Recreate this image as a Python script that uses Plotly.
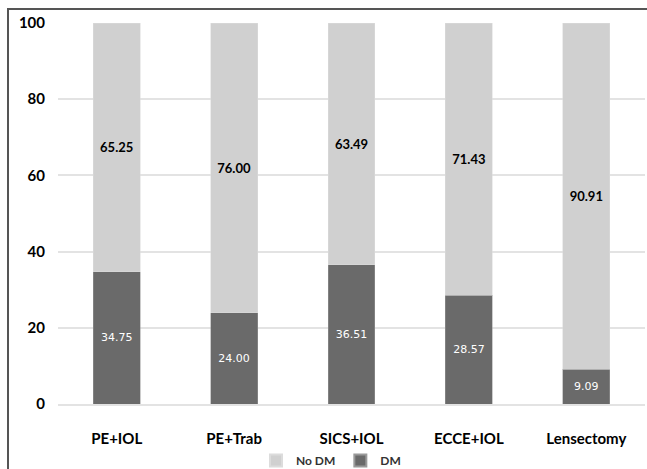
import plotly.graph_objects as go

categories = ["PE+IOL", "PE+Trab", "SICS+IOL", "ECCE+IOL", "Lensectomy"]
dm = [34.75, 24.00, 36.51, 28.57, 9.09]
no_dm = [65.25, 76.00, 63.49, 71.43, 90.91]
y_ticks = [0, 20, 40, 60, 80, 100]

W, H = 647, 469
L, R, T, B = 58, 2, 23, 65
PW, PH = W - L - R, H - T - B

fig = go.Figure()
fig.add_trace(go.Bar(
    x=categories, y=dm, name="DM",
    marker=dict(color="#6a6a6a", line=dict(color="#9a9a9a", width=0.5)),
    text=[f"{v:.2f}" for v in dm], textposition="inside", insidetextanchor="middle",
    textangle=0,
    insidetextfont=dict(family="DejaVu Sans", size=11, color="white"),
))
fig.add_trace(go.Bar(
    x=categories, y=no_dm, name="No DM",
    marker=dict(color="#d0d0d0", line=dict(color="#dcdcdc", width=0.5)),
    text=[f"{v:.2f}" for v in no_dm], textposition="inside", insidetextanchor="middle",
    textangle=0,
    insidetextfont=dict(family="Lato", size=13, color="black", weight="bold"),
))

fig.update_layout(
    barmode="stack",
    bargap=0.6,
    width=W, height=H,
    margin=dict(l=L, r=R, t=T, b=B, autoexpand=False),
    paper_bgcolor="white", plot_bgcolor="white",
    showlegend=True,
    legend=dict(orientation="h", x=(256 - L) / PW, xanchor="left",
                y=-(446 - T - PH) / PH, yanchor="top",
                bgcolor="rgba(0,0,0,0)",
                traceorder="reversed", tracegroupgap=0,
                font=dict(family="Lato", size=12, color="#333", weight="bold"),
                itemwidth=30, itemsizing="constant"),
    font=dict(family="Lato", color="black"),
    shapes=[dict(type="rect", xref="paper", yref="paper",
                 x0=(8 - L) / PW, x1=1.2, y0=-0.3, y1=(T + PH - 9) / PH,
                 line=dict(color="#555555", width=2), layer="below")],
)
fig.update_yaxes(range=[0, 100], tickvals=y_ticks, showgrid=True, gridcolor="#e3e3e3",
                 gridwidth=1.5, zeroline=False, showline=False,
                 tickfont=dict(family="Lato", size=15, color="black", weight="bold"),
                 ticklabelstandoff=12)
fig.update_xaxes(showline=True, linecolor="#e3e3e3", linewidth=1.5,
                 tickfont=dict(family="Lato", size=15, color="black", weight="bold"),
                 ticklabelstandoff=20)

fig.write_html("out.html", config={"displayModeBar": False},
               post_script="document.body.style.margin='0';document.body.style.overflow='hidden';")
